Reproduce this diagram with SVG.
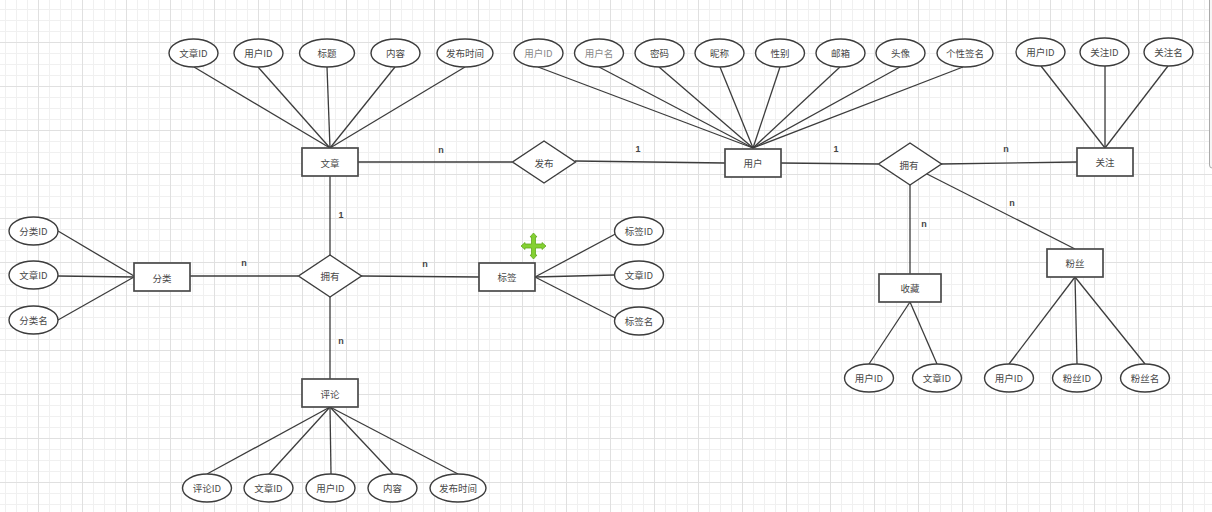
<svg xmlns="http://www.w3.org/2000/svg" width="1212" height="512" viewBox="0 0 1212 512">
<style>
.n ellipse,.n rect,.n polygon{fill:#fff;stroke:#3c3c3c;stroke-width:1.4}
.n rect{stroke:#4a4a4a;stroke-width:1.7}
.n text,.l{font-family:"Noto Sans CJK SC","Noto Sans",sans-serif;font-size:9.5px;fill:#484848;text-anchor:middle;dominant-baseline:central}
.l{font-family:"Liberation Sans",sans-serif;font-weight:bold;font-size:9px;fill:#444}
#c line{stroke:#3c3c3c;stroke-width:1.3}
.n text.g{fill:#888}
</style>
<defs>
<pattern id="p" x="38" y="42" width="44" height="44" patternUnits="userSpaceOnUse">
<rect width="44" height="44" fill="#fff"/>
<path d="M11.5 0V44M22.5 0V44M33.5 0V44M0 11.5H44M0 22.5H44M0 33.5H44" stroke="#f0f0f0" fill="none"/>
<path d="M.5 0V44M0 .5H44" stroke="#e0e0e0" fill="none"/>
</pattern>
</defs>
<rect width="1212" height="512" fill="url(#p)"/>
<path d="M1212 168H1213Q1209.500 168 1209.500 165V0H1212Z" fill="#f6f6f6" stroke="none"/>
<path d="M1209.500 0V165Q1209.500 168 1212 168" fill="none" stroke="#aaa"/>
<g id="c">
<line x1="194" y1="67" x2="330" y2="148"/><line x1="258" y1="67" x2="330" y2="148"/><line x1="327" y1="67" x2="330" y2="148"/><line x1="395" y1="67" x2="330" y2="148"/><line x1="465" y1="67" x2="330" y2="148"/>
<line x1="358" y1="162" x2="512" y2="162"/><line x1="575" y1="161" x2="725" y2="163"/>
<line x1="538" y1="67" x2="753" y2="148"/><line x1="599" y1="67" x2="753" y2="148"/><line x1="659" y1="67" x2="753" y2="148"/><line x1="720" y1="67" x2="753" y2="148"/><line x1="780" y1="67" x2="753" y2="148"/><line x1="840" y1="67" x2="753" y2="148"/><line x1="900" y1="67" x2="753" y2="148"/><line x1="963" y1="67" x2="753" y2="148"/>
<line x1="781" y1="163" x2="878" y2="164"/><line x1="941" y1="164" x2="1077" y2="162"/>
<line x1="1041" y1="66" x2="1105" y2="148"/><line x1="1105" y1="66" x2="1105" y2="148"/><line x1="1168" y1="66" x2="1105" y2="148"/>
<line x1="927" y1="174" x2="1075" y2="249"/><line x1="910" y1="185" x2="910" y2="274"/>
<line x1="910" y1="302" x2="869" y2="364"/><line x1="910" y1="302" x2="937" y2="364"/>
<line x1="1075" y1="277" x2="1009" y2="364"/><line x1="1075" y1="277" x2="1077" y2="364"/><line x1="1075" y1="277" x2="1145" y2="364"/>
<line x1="330" y1="176" x2="330" y2="255"/><line x1="330" y1="297" x2="330" y2="379"/>
<line x1="190" y1="276" x2="298" y2="276"/><line x1="361" y1="276" x2="479" y2="277"/>
<line x1="58" y1="231" x2="134" y2="276"/><line x1="58" y1="276" x2="134" y2="277"/><line x1="58" y1="320" x2="134" y2="277"/>
<line x1="535" y1="277" x2="621" y2="231"/><line x1="535" y1="277" x2="614" y2="275"/><line x1="535" y1="277" x2="621" y2="321"/>
<line x1="330" y1="407" x2="207" y2="474"/><line x1="330" y1="407" x2="269" y2="474"/><line x1="330" y1="407" x2="331" y2="474"/><line x1="330" y1="407" x2="393" y2="474"/><line x1="330" y1="407" x2="458" y2="474"/>
</g>
<g id="labels">
<text class="l" x="441" y="150">n</text><text class="l" x="341" y="215">1</text><text class="l" x="638" y="149">1</text><text class="l" x="836" y="149">1</text><text class="l" x="1006" y="149">n</text><text class="l" x="1012" y="203">n</text><text class="l" x="924" y="224">n</text><text class="l" x="244" y="263">n</text><text class="l" x="425" y="264">n</text><text class="l" x="341" y="341">n</text>
</g>
<g id="e1" class="n"><rect x="302" y="148" width="56" height="28"/><text x="330" y="163">文章</text></g>
<g id="e2" class="n"><rect x="725" y="149" width="56" height="28"/><text x="753" y="163">用户</text></g>
<g id="e3" class="n"><rect x="1077" y="148" width="56" height="28"/><text x="1105" y="162">关注</text></g>
<g id="e4" class="n"><rect x="134" y="263" width="56" height="28"/><text x="162" y="278">分类</text></g>
<g id="e5" class="n"><rect x="479" y="263" width="56" height="28"/><text x="507" y="277">标签</text></g>
<g id="e6" class="n"><rect x="302" y="379" width="56" height="28"/><text x="330" y="394">评论</text></g>
<g id="e7" class="n"><rect x="879" y="274" width="62" height="28"/><text x="910" y="288">收藏</text></g>
<g id="e8" class="n"><rect x="1047" y="249" width="56" height="28"/><text x="1075" y="263">粉丝</text></g>
<g id="r1" class="n"><polygon points="544,141 575.500,162 544,183 512.500,162"/><text x="544" y="163">发布</text></g>
<g id="r2" class="n"><polygon points="910,143 941.500,164 910,185 878.500,164"/><text x="909" y="165">拥有</text></g>
<g id="r3" class="n"><polygon points="330,255 361.500,276 330,297 298.500,276"/><text x="330" y="276">拥有</text></g>
<g id="a1" class="n"><ellipse cx="193.500" cy="53" rx="24.500" ry="14"/><text x="193.500" y="53">文章ID</text></g>
<g id="a2" class="n"><ellipse cx="258.500" cy="53" rx="24.500" ry="14"/><text x="258.500" y="53">用户ID</text></g>
<g id="a3" class="n"><ellipse cx="327" cy="53" rx="27.500" ry="14"/><text x="327" y="53">标题</text></g>
<g id="a4" class="n"><ellipse cx="395.500" cy="53" rx="24.500" ry="14"/><text x="395.500" y="53">内容</text></g>
<g id="a5" class="n"><ellipse cx="465" cy="53" rx="28" ry="14"/><text x="465" y="53">发布时间</text></g>
<g id="a6" class="n"><ellipse cx="538.500" cy="53" rx="24.500" ry="14"/><text class="g" x="538.500" y="53">用户ID</text></g>
<g id="a7" class="n"><ellipse cx="599" cy="53" rx="24.500" ry="14"/><text class="g" x="599" y="53">用户名</text></g>
<g id="a8" class="n"><ellipse cx="659.500" cy="53" rx="24.500" ry="14"/><text x="659.500" y="53">密码</text></g>
<g id="a9" class="n"><ellipse cx="719.500" cy="53" rx="24.500" ry="14"/><text x="719.500" y="53">昵称</text></g>
<g id="a10" class="n"><ellipse cx="780" cy="53" rx="24.500" ry="14"/><text x="780" y="53">性别</text></g>
<g id="a11" class="n"><ellipse cx="840.500" cy="53" rx="24.500" ry="14"/><text x="840.500" y="53">邮箱</text></g>
<g id="a12" class="n"><ellipse cx="900.500" cy="53" rx="24.500" ry="14"/><text x="900.500" y="53">头像</text></g>
<g id="a13" class="n"><ellipse cx="965" cy="53" rx="28" ry="14"/><text x="965" y="53">个性签名</text></g>
<g id="a14" class="n"><ellipse cx="1040.500" cy="52" rx="24.500" ry="14"/><text x="1040.500" y="52">用户ID</text></g>
<g id="a15" class="n"><ellipse cx="1104.500" cy="52" rx="24.500" ry="14"/><text x="1104.500" y="52">关注ID</text></g>
<g id="a16" class="n"><ellipse cx="1168.500" cy="52" rx="24.500" ry="14"/><text x="1168.500" y="52">关注名</text></g>
<g id="a17" class="n"><ellipse cx="33.500" cy="231" rx="24.500" ry="14"/><text x="33.500" y="231">分类ID</text></g>
<g id="a18" class="n"><ellipse cx="33.500" cy="275" rx="24.500" ry="14"/><text x="33.500" y="275">文章ID</text></g>
<g id="a19" class="n"><ellipse cx="33.500" cy="320" rx="24.500" ry="14"/><text x="33.500" y="320">分类名</text></g>
<g id="a20" class="n"><ellipse cx="639" cy="231" rx="24.500" ry="14"/><text x="639" y="231">标签ID</text></g>
<g id="a21" class="n"><ellipse cx="639" cy="275" rx="24.500" ry="14"/><text x="639" y="275">文章ID</text></g>
<g id="a22" class="n"><ellipse cx="639" cy="321" rx="24.500" ry="14"/><text x="639" y="321">标签名</text></g>
<g id="a23" class="n"><ellipse cx="207" cy="488" rx="24.500" ry="14"/><text x="207" y="488">评论ID</text></g>
<g id="a24" class="n"><ellipse cx="268.500" cy="488" rx="24.500" ry="14"/><text x="268.500" y="488">文章ID</text></g>
<g id="a25" class="n"><ellipse cx="330.500" cy="488" rx="24.500" ry="14"/><text x="330.500" y="488">用户ID</text></g>
<g id="a26" class="n"><ellipse cx="392.500" cy="488" rx="24.500" ry="14"/><text x="392.500" y="488">内容</text></g>
<g id="a27" class="n"><ellipse cx="458" cy="488" rx="28" ry="14"/><text x="458" y="488">发布时间</text></g>
<g id="a28" class="n"><ellipse cx="869" cy="378" rx="24.500" ry="14"/><text x="869" y="378">用户ID</text></g>
<g id="a29" class="n"><ellipse cx="937" cy="378" rx="24.500" ry="14"/><text x="937" y="378">文章ID</text></g>
<g id="a30" class="n"><ellipse cx="1009" cy="378" rx="24.500" ry="14"/><text x="1009" y="378">用户ID</text></g>
<g id="a31" class="n"><ellipse cx="1077" cy="378" rx="24.500" ry="14"/><text x="1077" y="378">粉丝ID</text></g>
<g id="a32" class="n"><ellipse cx="1145" cy="378" rx="24.500" ry="14"/><text x="1145" y="378">粉丝名</text></g>
<polygon id="move" points="533.500,233 537,237 535.500,237 535.500,244 542,244 542,242.500 546,246 542,249.500 542,248 535.500,248 535.500,255 537,255 533.500,259 530,255 531.500,255 531.500,248 525,248 525,249.500 521,246 525,242.500 525,244 531.500,244 531.500,237 530,237" fill="#84d132" stroke="#62a81e" stroke-width=".8"/>
</svg>
